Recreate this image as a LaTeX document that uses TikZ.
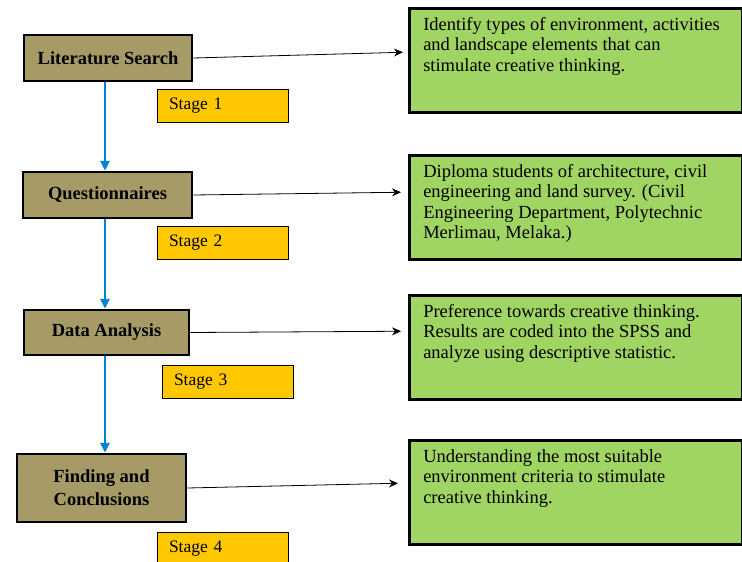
\documentclass[tikz,border=0pt]{standalone}
\usepackage{fontspec}
\setmainfont{Liberation Serif}
\usetikzlibrary{arrows.meta}
\definecolor{phasebrown}{RGB}{166,155,102}
\definecolor{tagyellow}{RGB}{255,200,0}
\definecolor{notegreen}{RGB}{160,212,99}
\definecolor{flowblue}{RGB}{0,130,210}
\tikzset{
  phase/.style={draw, line width=2.5pt, fill=phasebrown, align=center,
    font=\bfseries\fontsize{18.5}{23}\selectfont},
  tag/.style={draw, line width=.6pt, fill=tagyellow, minimum width=131pt,
    minimum height=33pt, text width=107pt, inner xsep=12pt,
    font=\fontsize{17.5}{20}\selectfont},
  note/.style={draw, line width=2.5pt, fill=notegreen, anchor=north west,
    inner sep=0pt, font=\fontsize{18.5}{20.5}\selectfont},
  flow/.style={draw=flowblue, line width=2.6pt, -{Triangle[length=10pt,width=9pt]}},
  link/.style={line width=.8pt, -{Stealth[length=9pt,width=8pt]}}
}
\newcommand{\notetext}[1]{\parbox[c][104pt][t]{333pt}{\vspace{9pt}\hspace*{14pt}%
  \parbox[t]{315pt}{\raggedright #1}}}
\begin{document}
\begin{tikzpicture}[x=1pt, y=-1pt]
 \useasboundingbox (0,0) rectangle (742,562);
 \coordinate (spine) at (105,0);
 % left column
 \node[phase, minimum width=168pt, minimum height=46pt] (lit) at (108,58) {Literature Search};
 \node[phase, minimum width=169pt, minimum height=46pt] (quest) at (107.5,195) {Questionnaires};
 \node[phase, minimum width=165pt, minimum height=45pt] (data) at (106.5,332.5) {Data Analysis};
 \node[phase, minimum width=169pt, minimum height=68pt] (find) at (101.5,488) {Finding and\\Conclusions};
 % stage tags
 \node[tag] (s1) at (222.5,105.5) {Stage 1};
 \node[tag] (s2) at (222.5,243) {Stage 2};
 \node[tag] (s3) at (227.5,382) {Stage 3};
 \node[tag] (s4) at (222.5,549) {Stage 4};
 % notes
 \node[note] (g1) at (408,7) {\notetext{Identify types of environment, activities\\ and landscape elements that can\\ stimulate creative thinking.}};
 \node[note] (g2) at (408,154) {\notetext{Diploma students of architecture, civil\\ engineering and land survey. (Civil\\ Engineering Department, Polytechnic\\ Merlimau, Melaka.)}};
 \node[note] (g3) at (408,294) {\notetext{Preference towards creative thinking.\\ Results are coded into the SPSS and\\ analyze using descriptive statistic.}};
 \node[note] (g4) at (408,439) {\notetext{Understanding the most suitable\\ environment criteria to stimulate\\ creative thinking.}};
 % connectors
 \draw[flow] (lit.south -| spine) -- (quest.north -| spine);
 \draw[flow] (quest.south -| spine) -- (data.north -| spine);
 \draw[flow] (data.south -| spine) -- (find.north -| spine);
 \draw[link] (lit.east) -- ([xshift=-5pt, yshift=8pt]g1.west);
 \draw[link] (quest.east) -- ([xshift=-7pt, yshift=15pt]g2.west);
 \draw[link] (data.east) -- ([xshift=-7pt, yshift=16pt]g3.west);
 \draw[link] (find.east) -- ([xshift=-10pt, yshift=9pt]g4.west);
\end{tikzpicture}
\end{document}
